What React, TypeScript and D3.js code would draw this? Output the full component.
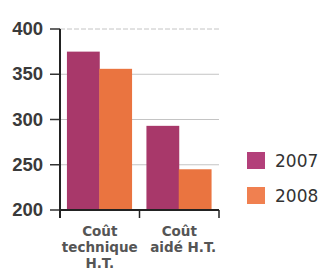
import React from "react";
import * as d3 from "d3";

const categories: string[][] = [["Coût", "technique", "H.T."], ["Coût", "aidé H.T."]];
const series = ["2007", "2008"];
const values2007 = [375, 293];
const values2008 = [356, 245];
const yTicks = [200, 250, 300, 350, 400];
const colors = ["#a8386a", "#ea7440"];
const legendColors = ["#b3407a", "#f08050"];

export default function App() {
  const W = 322, H = 279;
  const x0 = 60, x1 = 219, yTop = 29, yBot = 210;
  const x = d3.scaleBand<number>().domain([0, 1]).range([x0, x1]).paddingInner(0).paddingOuter(0);
  const xs = d3.scaleBand<number>().domain([0, 1]).range([0, x.bandwidth()]).paddingInner(0).paddingOuter(0.23);
  const y = d3.scaleLinear().domain([200, 400]).range([yBot, yTop]);
  const data = [values2007, values2008];
  const font = "'DejaVu Sans', sans-serif";
  return (
    <svg width={W} height={H} style={{ position: "absolute", left: 0, top: 0, background: "#fff" }}>
      {yTicks.map((t) => (
        <g key={t}>
          {t !== 200 && (
            <line x1={x0} x2={x1} y1={y(t)} y2={y(t)} stroke="#c4c4c4" strokeWidth={1} strokeDasharray={t === 400 ? "5,2" : undefined} />
          )}
          <line x1={50} x2={x0} y1={y(t)} y2={y(t)} stroke="#333" strokeWidth={1.5} />
          <text x={43} y={y(t) + 6} textAnchor="end" fontFamily="'Liberation Sans', sans-serif" fontWeight="bold" fontSize={18.5} fill="#3a3a3a">{t}</text>
        </g>
      ))}
      {categories.map((_, i) =>
        data.map((vals, s) => (
          <rect key={`${i}-${s}`} x={(x(i) as number) + (xs(s) as number) - 0.5} y={y(vals[i])} width={xs.bandwidth() + 0.5} height={yBot - y(vals[i])} fill={colors[s]} />
        ))
      )}
      <line x1={x0} x2={x0} y1={yTop} y2={yBot + 8} stroke="#222" strokeWidth={2} />
      <line x1={x0} x2={x1} y1={yBot} y2={yBot} stroke="#222" strokeWidth={2} />
      {[1, 2].map((k) => (
        <line key={k} x1={x0 + k * x.bandwidth()} x2={x0 + k * x.bandwidth()} y1={yBot} y2={yBot + 8} stroke="#222" strokeWidth={1.5} />
      ))}
      {categories.map((lines, i) => (
        <text key={i} textAnchor="middle" fontFamily={font} fontWeight="bold" fontSize={13.5} fill="#555">
          {lines.map((l, j) => (
            <tspan key={j} x={(x(i) as number) + x.bandwidth() / 2 + (i === 1 && j === 1 ? 4 : 0)} y={236 + j * 16}>{l}</tspan>
          ))}
        </text>
      ))}
      {series.map((s, i) => (
        <g key={s}>
          <rect x={247} y={152 + i * 35} width={18} height={17} fill={legendColors[i]} />
          <text x={275} y={167 + i * 35} fontFamily={font} fontSize={17} fill="#333">{s}</text>
        </g>
      ))}
    </svg>
  );
}
